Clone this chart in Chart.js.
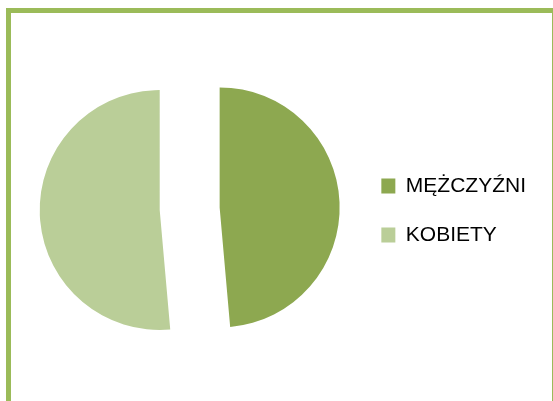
<!DOCTYPE html>
<html>
<head>
<meta charset="utf-8">
<script src="https://cdn.jsdelivr.net/npm/chart.js@4.4.0/dist/chart.umd.min.js"></script>
<style>
    html, body { margin: 0; padding: 0; background: #fff; overflow: hidden; }
    #wrap { position: relative; width: 553px; height: 401px; }
    #frame {
        position: absolute; left: 6px; top: 8px;
        width: 541px; height: 400px;
        border: 5px solid #9BBB59;
        pointer-events: none;
    }
</style>
</head>
<body>
<div id="wrap">
    <canvas id="myChart" width="553" height="401"></canvas>
    <div id="frame"></div>
</div>
<script>
const labels = ['MĘŻCZYŹNI', 'KOBIETY'];
const values = [48.6, 51.4];
const colors = ['#8DA850', '#BACE98'];
const explode = 30;

// pull every slice out along its middle angle (chart.js offset also shrinks the angle)
const explodePlugin = {
    id: 'explode',
    afterDatasetsUpdate(chart) {
        chart.getDatasetMeta(0).data.forEach(arc => {
            const mid = (arc.startAngle + arc.endAngle) / 2;
            arc.x += Math.cos(mid) * explode;
            arc.y += Math.sin(mid) * explode;
        });
    }
};

chartPie();

function chartPie() {
    const ctx = document.getElementById('myChart').getContext('2d');
    const chartData = {
        labels: labels,
        datasets: [{
            data: values,
            backgroundColor: colors,
            borderWidth: 0,
            hoverOffset: 0
        }]
    };
    const chart = new Chart(ctx, {
        type: 'pie',
        data: chartData,
        plugins: [explodePlugin],
        options: {
            responsive: false,
            animation: false,
            radius: 120,
            layout: {
                padding: { left: 26, right: 17, top: 73.75, bottom: 57.25 }
            },
            plugins: {
                tooltip: { enabled: false },
                legend: {
                    position: 'right',
                    title: {
                        display: true,
                        text: ' ',
                        font: { size: 1 },
                        padding: { top: 1.25, bottom: 1.25 }
                    },
                    labels: {
                        boxWidth: 14,
                        boxHeight: 15,
                        padding: 28,
                        color: '#000',
                        font: { family: '"Liberation Sans", Arial, sans-serif', size: 21 }
                    }
                }
            }
        }
    });
}
</script>
</body>
</html>
